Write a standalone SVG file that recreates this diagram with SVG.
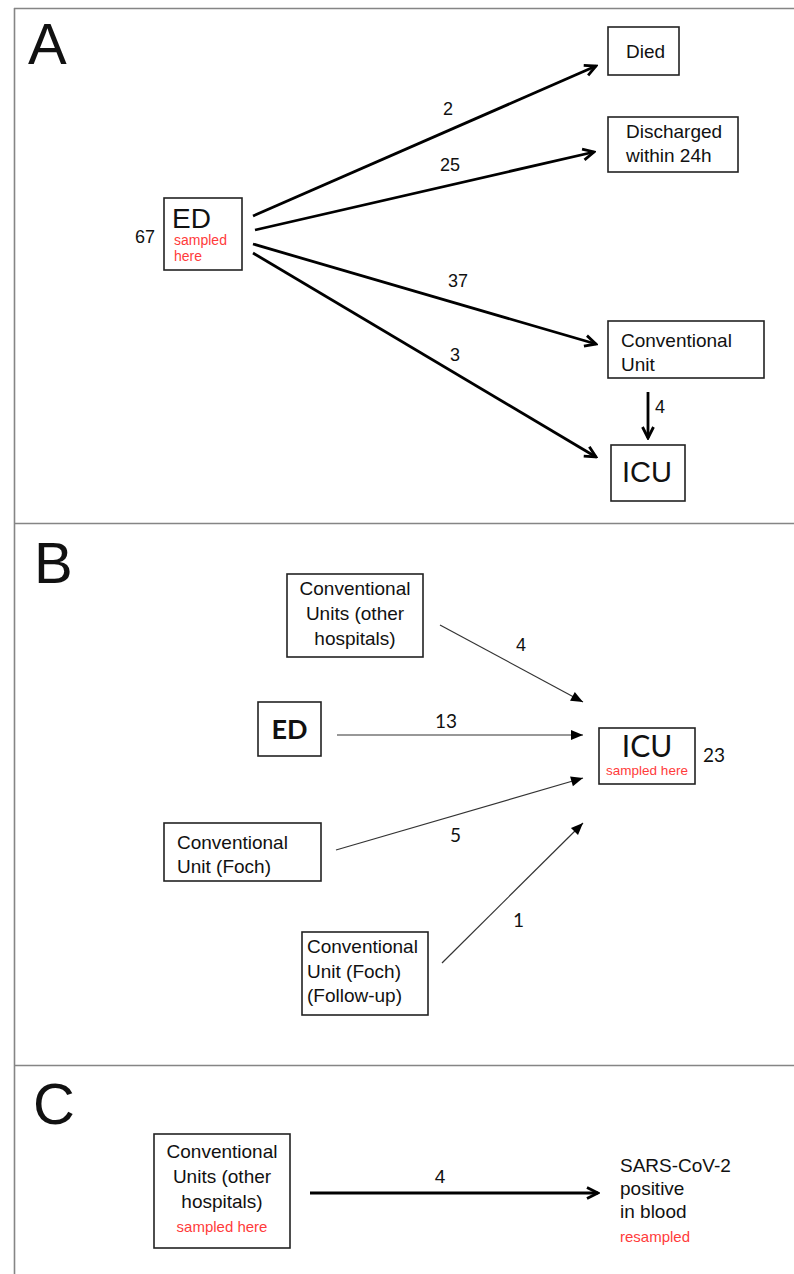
<svg xmlns="http://www.w3.org/2000/svg" width="794" height="1274" viewBox="0 0 794 1274">
<style>
.frame{stroke:#858585;stroke-width:1.6;fill:none}
.box{fill:#fff;stroke:#222;stroke-width:1.6}
.t{font-family:"Liberation Sans",Arial,sans-serif;fill:#111}
.n{font-size:19px}
.red{fill:#ff3b3b}
.big{font-size:58px}
.c{font-family:Lato,"Liberation Sans",sans-serif;fill:#111}
.thick{stroke:#000;stroke-width:2.8;fill:none}
.thin{stroke:#333;stroke-width:1.2;fill:none}
</style>
<defs>
<marker id="chev" viewBox="-14 -8 16 16" refX="0" refY="0" markerWidth="16" markerHeight="16" markerUnits="userSpaceOnUse" orient="auto">
<path d="M-11,-5.5 L0,0 L-11,5.5" fill="none" stroke="#000" stroke-width="2.8"/>
</marker>
<marker id="tri" viewBox="-13 -7 14 14" refX="0" refY="0" markerWidth="14" markerHeight="14" markerUnits="userSpaceOnUse" orient="auto">
<path d="M-12,-5 L0,0 L-12,5Z" fill="#000"/>
</marker>
</defs>
<rect width="794" height="1274" fill="#fff"/>
<g id="frame">
<line class="frame" x1="14" y1="8.5" x2="794" y2="8.5"/>
<line class="frame" x1="14.5" y1="8" x2="14.5" y2="1274"/>
<line class="frame" x1="14" y1="523.5" x2="794" y2="523.5"/>
<line class="frame" x1="14" y1="1065.5" x2="794" y2="1065.5"/>
</g>
<g id="panel-labels">
<text class="t big" x="28" y="64">A</text>
<text class="t big" x="34" y="583">B</text>
<text class="t big" x="33" y="1124">C</text>
</g>
<g id="connectors">
<line class="thick" x1="253" y1="216" x2="596" y2="66" marker-end="url(#chev)"/>
<line class="thick" x1="255" y1="230" x2="594" y2="152" marker-end="url(#chev)"/>
<line class="thick" x1="253" y1="244" x2="596" y2="344" marker-end="url(#chev)"/>
<line class="thick" x1="253" y1="253" x2="596" y2="457" marker-end="url(#chev)"/>
<line class="thick" x1="648" y1="392" x2="648" y2="438" marker-end="url(#chev)"/>
<line class="thin" x1="440" y1="625" x2="583" y2="702" marker-end="url(#tri)"/>
<line class="thin" x1="337" y1="735" x2="583" y2="735" marker-end="url(#tri)"/>
<line class="thin" x1="336" y1="850" x2="583" y2="778" marker-end="url(#tri)"/>
<line class="thin" x1="442" y1="963" x2="583" y2="823" marker-end="url(#tri)"/>
<line class="thick" x1="310" y1="1193" x2="598" y2="1193" stroke-width="2.2" marker-end="url(#chev)"/>
</g>
<g id="edge-labels">
<text class="t" font-size="18" x="443" y="115">2</text>
<text class="t" font-size="18" x="440" y="171">25</text>
<text class="t" font-size="18" x="448" y="287">37</text>
<text class="t" font-size="18" x="450" y="361">3</text>
<text class="t" font-size="18" x="655" y="413">4</text>
<text class="t" font-size="18" x="516" y="651">4</text>
<text class="c" font-size="19" x="435" y="728">13</text>
<text class="c" font-size="19" x="450" y="842">5</text>
<text class="c" font-size="19" x="513" y="927">1</text>
<text class="t" font-size="19" x="440" y="1183" text-anchor="middle">4</text>
</g>
<g id="A-ED">
<rect class="box" x="164" y="198" width="78" height="72"/>
<text class="t" font-size="28" x="172" y="228">ED</text>
<text class="t red" font-size="14" x="174" y="245">sampled</text>
<text class="t red" font-size="14" x="174" y="261">here</text>
<text class="t" font-size="18" x="135" y="243">67</text>
</g>
<g id="A-Died">
<rect class="box" x="608" y="27" width="71" height="48"/>
<text class="t n" x="626" y="58">Died</text>
</g>
<g id="A-Discharged">
<rect class="box" x="608" y="117" width="130" height="55"/>
<text class="t n" x="626" y="138">Discharged</text>
<text class="t n" x="626" y="162">within 24h</text>
</g>
<g id="A-Conventional">
<rect class="box" x="608" y="321" width="156" height="57"/>
<text class="t n" x="621" y="347">Conventional</text>
<text class="t n" x="621" y="371">Unit</text>
</g>
<g id="A-ICU">
<rect class="box" x="611" y="445" width="74" height="56"/>
<text class="t" font-size="29" x="622" y="482">ICU</text>
</g>
<g id="B-CUother">
<rect class="box" x="287" y="574" width="136" height="83"/>
<text class="t n" x="355" y="595" text-anchor="middle">Conventional</text>
<text class="t n" x="355" y="620" text-anchor="middle">Units (other</text>
<text class="t n" x="355" y="645" text-anchor="middle">hospitals)</text>
</g>
<g id="B-ED">
<rect class="box" x="258" y="702" width="63" height="54"/>
<text class="c" font-size="27" font-weight="bold" x="289.5" y="739" text-anchor="middle">ED</text>
</g>
<g id="B-ICU">
<rect class="box" x="599" y="728" width="96" height="56"/>
<text class="c" font-size="30" x="647" y="757" text-anchor="middle">ICU</text>
<text class="t red" font-size="13.5" x="647" y="775" text-anchor="middle">sampled here</text>
<text class="c" font-size="19" x="703" y="762">23</text>
</g>
<g id="B-Foch">
<rect class="box" x="164" y="823" width="157" height="58"/>
<text class="t n" x="177" y="849">Conventional</text>
<text class="t n" x="177" y="873">Unit (Foch)</text>
</g>
<g id="B-FochFollow">
<rect class="box" x="302" y="932" width="126" height="83"/>
<text class="t n" x="307" y="953">Conventional</text>
<text class="t n" x="307" y="978">Unit (Foch)</text>
<text class="t n" x="307" y="1002">(Follow-up)</text>
</g>
<g id="C-CUother">
<rect class="box" x="154" y="1134" width="136" height="114"/>
<text class="t n" x="222" y="1158" text-anchor="middle">Conventional</text>
<text class="t n" x="222" y="1183" text-anchor="middle">Units (other</text>
<text class="t n" x="222" y="1208" text-anchor="middle">hospitals)</text>
<text class="t red" font-size="15" x="222" y="1232" text-anchor="middle">sampled here</text>
</g>
<g id="C-SARS">
<text class="t n" x="620" y="1172">SARS-CoV-2</text>
<text class="t n" x="620" y="1195">positive</text>
<text class="t n" x="620" y="1218">in blood</text>
<text class="t red" font-size="15" x="620" y="1242">resampled</text>
</g>
</svg>
